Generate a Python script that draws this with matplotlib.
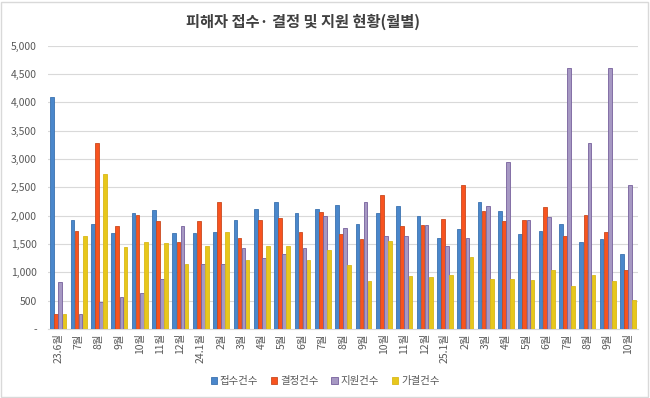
#!/usr/bin/env python3
"""
Monthly victim support status: received / decided / supported / approved counts.
"""

import matplotlib
matplotlib.use("Agg")
import matplotlib.pyplot as plt
import numpy as np
from matplotlib.patches import Rectangle
from matplotlib.ticker import FuncFormatter

plt.rcParams["font.family"] = ["Noto Sans CJK KR", "DejaVu Sans"]

months = [
    "23.6월", "7월", "8월", "9월", "10월", "11월", "12월",
    "24.1월", "2월", "3월", "4월", "5월", "6월", "7월", "8월", "9월", "10월", "11월", "12월",
    "25.1월", "2월", "3월", "4월", "5월", "6월", "7월", "8월", "9월", "10월",
]

received = [4100, 1930, 1850, 1690, 2040, 2100, 1690,
            1690, 1710, 1930, 2110, 2240, 2040, 2120, 2190, 1850, 2050, 2170, 1990,
            1610, 1760, 2240, 2090, 1680, 1730, 1860, 1530, 1580, 1330]
decided = [270, 1730, 3280, 1820, 2010, 1900, 1530,
           1910, 2250, 1600, 1920, 1960, 1720, 2060, 1670, 1580, 2360, 1820, 1830,
           1950, 2540, 2080, 1900, 1930, 2150, 1640, 2020, 1710, 1050]
supported = [830, 270, 470, 565, 630, 880, 1820,
             1150, 1150, 1430, 1250, 1330, 1430, 2000, 1790, 2240, 1640, 1640, 1830,
             1470, 1600, 2170, 2950, 1920, 1970, 4600, 3280, 4610, 2550]
approved = [265, 1635, 2730, 1440, 1530, 1510, 1150,
            1470, 1720, 1220, 1470, 1460, 1220, 1400, 1130, 840, 1560, 930, 910,
            950, 1270, 880, 880, 870, 1050, 760, 950, 850, 510]

series = [
    ("접수건수", received, "#4A87CB", "#3B72B0"),
    ("결정건수", decided, "#F8531F", "#C94A1F"),
    ("지원건수", supported, "#A698C3", "#76609C"),
    ("가결건수", approved, "#E7C71C", "#D9B91A"),
]

fig = plt.figure(figsize=(6.5, 3.98), dpi=100)
ax = fig.add_axes([0.074, 0.1734, 0.908, 0.7116])

x = np.arange(len(months))
w = 0.2
for i, (name, vals, fc, ec) in enumerate(series):
    ax.bar(x + (i - 1.5) * w, vals, width=w * 0.9, color=fc, edgecolor=ec,
           linewidth=0.6, label=name, zorder=3)

ax.set_xlim(-0.5, len(months) - 0.5)
ax.set_ylim(0, 5000)
ax.set_yticks(np.arange(0, 5001, 500))
ax.yaxis.set_major_formatter(FuncFormatter(lambda v, p: "-" if v == 0 else f"{int(v):,}"))
ax.grid(axis="y", color="#D9D9D9", linewidth=0.8, zorder=0)
ax.set_axisbelow(True)

for s in ["top", "right", "left"]:
    ax.spines[s].set_visible(False)
ax.spines["bottom"].set_color("#D9D9D9")

ax.set_xticks(x)
ax.set_xticklabels(months, rotation=90, ha="center", va="top", fontsize=7.5, color="#595959")
ax.tick_params(axis="y", labelsize=7.5, labelcolor="#595959", length=0, pad=8)
ax.tick_params(axis="x", length=0, pad=3)

fig.text(0.466, 0.945, "피해자 접수· 결정 및 지원 현황(월별)", fontsize=11, fontweight="bold",
         color="#404040", ha="center", va="center")

fig.legend(loc="center", bbox_to_anchor=(0.5, 0.043), ncol=4, frameon=False,
           fontsize=7.5, handlelength=0.6, handleheight=0.6, handletextpad=0.3,
           columnspacing=1.2, labelcolor="#595959")

fig.patches.append(Rectangle((0.002, 0.003), 0.995, 0.993, transform=fig.transFigure,
                             fill=False, edgecolor="#D9D9D9", linewidth=1))

fig.savefig("out.png", dpi=100)
plt.close(fig)
